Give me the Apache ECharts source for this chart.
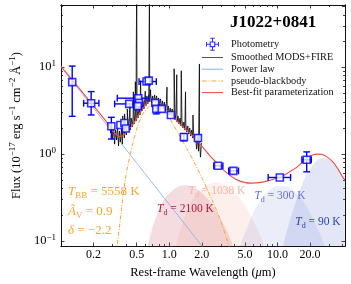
<!DOCTYPE html>
<html><head><meta charset="utf-8">
<script src="https://cdn.jsdelivr.net/npm/echarts@6/dist/echarts.min.js"></script>
<style>html,body{margin:0;padding:0;background:#fff}#c{width:351px;height:284px}</style>
</head><body><div id="c"></div>
<script>
const SERIF = "'Liberation Serif','Times New Roman','DejaVu Serif',serif";

// ---------------- data (wavelength in µm, flux in 1e-17 erg/s/cm2/Å) ----------------
const xTickLabels = [0.2, 0.5, 1, 2, 5, 10, 20];
const xMinorTicks = [0.3, 0.4, 0.6, 0.7, 0.8, 0.9, 3, 4, 6, 7, 8, 9, 30, 40];
const yTickLabels = [0.1, 1, 10];
const yMinorTicks = [0.2, 0.3, 0.4, 0.5, 0.6, 0.7, 0.8, 0.9, 2, 3, 4, 5, 6, 7, 8, 9, 20, 30, 40, 50];

// photometry
const photX   = [0.127,0.190,0.292,0.354,0.385,0.397,0.427,0.518,0.526,0.512,0.617,0.647,0.743,0.759,0.852,1.036,1.365,1.84,2.82,3.91,10.5,18.6];
const photY   = [6.73,3.85,2.09,2.16,2.28,1.97,3.78,4.40,3.88,3.56,6.84,7.00,3.88,3.31,3.31,2.82,1.57,1.53,0.733,0.641,0.538,0.86];
const photXlo = [0.127,0.162,0.292,0.354,0.385,0.397,0.313,0.331,0.526,0.512,0.526,0.647,0.743,0.759,0.852,1.036,1.365,1.84,2.58,3.54,8.2,16.8];
const photXhi = [0.127,0.224,0.292,0.354,0.385,0.397,0.515,0.647,0.526,0.512,0.759,0.647,0.743,0.759,0.852,1.036,1.365,1.84,3.13,4.36,13.2,20.5];
const photYlo = [2.72,2.82,1.49,2.16,2.28,1.97,3.78,4.40,3.88,3.56,6.84,7.00,3.88,2.90,3.31,2.82,1.42,1.40,0.733,0.641,0.538,0.625];
const photYhi = [10.3,5.24,2.65,2.16,2.28,1.97,3.78,4.40,3.88,3.56,6.84,7.00,3.88,3.60,3.31,2.82,1.72,1.66,0.733,0.641,0.538,1.06];

// smoothed MODS+FIRE spectrum (continuum samples + emission-line peaks)
const specX = [0.282,0.288,0.294,0.300,0.306,0.313,0.319,0.326,0.333,0.340,0.347,0.354,0.362,0.369,0.377,0.385,0.393,0.401,0.410,0.418,0.427,0.436,0.445,0.455,0.464,0.474,0.484,0.494,0.504,0.515,0.526,0.537,0.548,0.560,0.571,0.583,0.595,0.608,0.621,0.634,0.647,0.660,0.674,0.688,0.703,0.718,0.733,0.748,0.764,0.780,0.796,0.813,0.830,0.847,0.865,0.883,0.901,0.920,0.940,0.959,0.979,1.000,1.021,1.042,1.064,1.086,1.109,1.132,1.156,1.180,1.205,1.230,1.256,1.282,1.309,1.337,1.365,1.393,1.422,1.452,1.483,1.514,1.546,1.578,1.611,1.645,1.679,1.714,1.750,1.787,1.825,1.863,1.902,1.942,1.983];
const specY = [2.28,1.75,2.16,1.49,2.00,1.30,1.89,1.45,2.05,1.24,1.84,1.38,1.94,1.30,2.05,1.53,2.22,1.66,2.28,1.80,2.47,1.89,2.60,2.05,2.75,2.22,3.05,2.40,3.31,2.60,3.58,2.82,3.78,3.14,4.09,3.31,4.43,3.58,4.67,3.78,4.80,3.98,4.93,3.88,4.67,3.98,4.80,3.88,4.67,3.78,4.43,3.58,4.32,3.49,4.09,3.31,3.98,3.14,3.78,2.97,3.58,2.82,3.40,2.75,3.31,2.60,3.14,2.47,2.97,2.34,2.75,2.22,2.60,2.11,2.47,2.00,2.34,1.89,2.22,1.80,2.11,1.70,2.00,1.61,1.89,1.53,1.75,1.45,1.66,1.14,1.57,1.08,1.49,0.923,1.34];
const lineX = [0.372,0.387,0.410,0.434,0.466,0.4861,0.4959,0.5007,0.544,0.600,0.6563,0.6724,0.842,0.953,1.109,1.173,1.291,1.413,1.656,1.90];
const lineY = [2.75,2.9,3.3,3.8,5.2,6.8,15.6,80,7.0,5.3,80,5.5,4.5,5.9,9.6,8.2,9.1,5.2,2.82,10.9];

// power law
const powX = [0.1, 0.2, 0.5, 1.0, 2.0, 2.2];
const powY = [10.1, 3.37, 0.79, 0.264, 0.088, 0.076];

// pseudo-blackbody
const pbbX = [0.325,0.331,0.347,0.362,0.393,0.427,0.464,0.515,0.571,0.634,0.703,0.780,0.865,0.959,1.11,1.28,1.48,1.68,2.07,2.54,3.00,3.47,3.69];
const pbbY = [0.060,0.089,0.144,0.232,0.514,0.876,1.38,2.16,2.90,3.40,3.78,3.78,3.40,2.90,2.10,1.53,1.11,0.830,0.488,0.279,0.168,0.0964,0.0758];

// best-fit parameterization
const fitX = [0.100,0.171,0.260,0.313,0.347,0.377,0.410,0.445,0.484,0.537,0.595,0.660,0.733,0.813,0.901,1.036,1.18,1.365,1.58,1.83,2.07,2.39,2.82,3.33,4.10,5.04,5.83,6.74,7.96,9.20,10.9,12.8,15.1,17.1,19.0,21.1,23.4,25.9,28.8,32.6,36.2,40.1,41.9];
const fitY = [10.2,4.55,2.40,1.75,1.59,1.64,1.84,2.05,2.40,2.97,3.58,4.09,4.09,3.78,3.40,2.90,2.40,2.00,1.70,1.41,1.17,0.948,0.766,0.620,0.514,0.469,0.463,0.469,0.488,0.514,0.550,0.620,0.708,0.808,0.899,0.974,1.00,0.987,0.923,0.808,0.671,0.543,0.501];

// dust blackbody components
const bb2100X = [0.608,0.634,0.733,0.901,1.11,1.365,1.68,2.07,2.54,3.13,3.69,4.10];
const bb2100Y = [0.0581,0.0891,0.168,0.302,0.394,0.438,0.416,0.345,0.251,0.160,0.104,0.0682];
const bb1038X = [1.11,1.156,1.31,1.51,1.75,2.07,2.44,2.82,3.26,3.85,4.55,5.37,6.34,7.18,7.96];
const bb1038Y = [0.058,0.089,0.155,0.244,0.336,0.416,0.463,0.469,0.438,0.374,0.302,0.220,0.147,0.104,0.0647];
const bb300X = [4.36,4.55,5.26,6.08,7.18,8.47,10.0,11.8,13.9,16.5,19.4,22.9,27.1,28.2];
const bb300Y = [0.058,0.089,0.144,0.220,0.310,0.384,0.427,0.427,0.384,0.310,0.226,0.147,0.089,0.058];
const bb90X = [10.9,11.3,12.8,14.5,16.5,18.6,21.1,23.9,27.1,30.6,34.7,38.5,41.9];
const bb90Y = [0.058,0.089,0.160,0.265,0.416,0.588,0.746,0.864,0.899,0.852,0.746,0.604,0.501];

// ---------------- chart ----------------
const lg = Math.log10;
const XMIN = 0.1, XMAX = 42, YMIN = 0.0875, YMAX = 52;
const pts = (X, Y) => X.map((x, i) => [lg(x), lg(Y[i])]);
const AX = '#111';

function xAx(pos, vals, len, label) {
  return {
    type: 'value', position: pos, min: lg(XMIN), max: lg(XMAX),
    axisLine: {show: true, onZero: false, lineStyle: {color: AX, width: 1}},
    axisTick: {show: true, inside: true, length: len, customValues: vals.map(lg), lineStyle: {color: AX, width: 0.8}},
    axisLabel: label ? {show: true, customValues: vals.map(lg), margin: 3,
      formatter: v => Math.pow(10, v).toFixed(1), fontFamily: SERIF, fontSize: 12, color: '#000'} : {show: false},
    splitLine: {show: false}
  };
}
function yAx(pos, vals, len, label) {
  return {
    type: 'value', position: pos, min: lg(YMIN), max: lg(YMAX),
    axisLine: {show: true, onZero: false, lineStyle: {color: AX, width: 1}},
    axisTick: {show: true, inside: true, length: len, customValues: vals.map(lg), lineStyle: {color: AX, width: 0.8}},
    axisLabel: label ? {show: true, customValues: vals.map(lg), margin: 5,
      formatter: v => { const e = Math.round(v); return '{b|10}{s|' + (e < 0 ? '\u2212' + (-e) : e) + '}'; },
      rich: {
        b: {fontFamily: SERIF, fontSize: 12.5, lineHeight: 16, color: '#000'},
        s: {fontFamily: SERIF, fontSize: 9, lineHeight: 9, verticalAlign: 'top', color: '#000'}
      }} : {show: false},
    splitLine: {show: false}
  };
}

const xAxes = [
  Object.assign(xAx('bottom', xTickLabels, 3.5, true), {
    name: '{n|Rest-frame Wavelength (}{i|\u03bc}{n|m)}', nameLocation: 'middle', nameGap: 16,
    nameTextStyle: {rich: {
      n: {fontFamily: SERIF, fontSize: 12.5, color: '#000'},
      i: {fontFamily: SERIF, fontSize: 12.5, fontStyle: 'italic', color: '#000'}}}
  }),
  xAx('bottom', xMinorTicks, 2, false),
  xAx('top', xTickLabels, 3.5, false),
  xAx('top', xMinorTicks, 2, false)
];
const yAxes = [
  Object.assign(yAx('left', yTickLabels, 3.5, true), {
    name: '{n|Flux (10}{p|\u221217}{n| erg s}{p|\u22121}{n| cm}{p|\u22122}{n| \u00c5}{p|\u22121}{n|)}',
    nameLocation: 'middle', nameGap: 35, nameRotate: 90,
    nameTextStyle: {rich: {
      n: {fontFamily: SERIF, fontSize: 12.5, lineHeight: 17, color: '#000'},
      p: {fontFamily: SERIF, fontSize: 9, lineHeight: 9, verticalAlign: 'top', color: '#000'}}}
  }),
  yAx('left', yMinorTicks, 2, false),
  yAx('right', yTickLabels, 3.5, false),
  yAx('right', yMinorTicks, 2, false)
];

function shade(X, Y, color) {
  return {type: 'line', data: pts(X, Y), symbol: 'none', silent: true, smooth: 0.35,
    lineStyle: {width: 0}, areaStyle: {color: color, origin: 'start', opacity: 1}, z: 1};
}

const spec = pts(specX, specY).concat(pts(lineX, lineY)).sort((a, b) => a[0] - b[0]);
const errData = photX.map((x, i) => [lg(x), lg(photY[i]), lg(photXlo[i]), lg(photXhi[i]), lg(photYlo[i]), lg(photYhi[i])]);
const BLUE = '#0000ff';
const ORANGE = '#f7a530';
const RED = '#f24a4a';
const PLBLUE = '#86b8ee';

function errItem(params, api) {
  const x = api.value(0), y = api.value(1), xl = api.value(2), xh = api.value(3), yl = api.value(4), yh = api.value(5);
  const st = {stroke: BLUE, lineWidth: 1.4};
  const ch = [];
  const cap = 3.4;
  if (yh - yl > 1e-6) {
    const a = api.coord([x, yl]), b = api.coord([x, yh]);
    ch.push({type: 'line', shape: {x1: a[0], y1: a[1], x2: b[0], y2: b[1]}, style: st});
    ch.push({type: 'line', shape: {x1: a[0] - cap, y1: a[1], x2: a[0] + cap, y2: a[1]}, style: st});
    ch.push({type: 'line', shape: {x1: b[0] - cap, y1: b[1], x2: b[0] + cap, y2: b[1]}, style: st});
  }
  if (xh - xl > 1e-6) {
    const a = api.coord([xl, y]), b = api.coord([xh, y]);
    ch.push({type: 'line', shape: {x1: a[0], y1: a[1], x2: b[0], y2: b[1]}, style: st});
    ch.push({type: 'line', shape: {x1: a[0], y1: a[1] - cap, x2: a[0], y2: a[1] + cap}, style: st});
    ch.push({type: 'line', shape: {x1: b[0], y1: b[1] - cap, x2: b[0], y2: b[1] + cap}, style: st});
  }
  return {type: 'group', children: ch};
}

const PHOT_ICON = 'path://M5.6 5.6H14.4V14.4H5.6Z M7.4 7.4V12.6H12.6V7.4Z M0 9.2H5.6V10.8H0Z M14.4 9.2H20V10.8H14.4Z M9.2 0H10.8V5.6H9.2Z M9.2 14.4H10.8V20H9.2Z M0 6.5H1.6V13.5H0Z M18.4 6.5H20V13.5H18.4Z M6.5 0H13.5V1.6H6.5Z M6.5 18.4H13.5V20H6.5Z';
const LINE_ICON = 'path://M0 0H20V1H0Z';
const DASHDOT_ICON = 'path://M0 0H4.5V1H0Z M6.3 0H7.3V1H6.3Z M9.1 0H13.6V1H9.1Z M15.4 0H16.4V1H15.4Z M18.2 0H20V1H18.2Z';

function rich(color, fs) {
  return {
    i: {fontFamily: SERIF, fontStyle: 'italic', fontSize: fs, lineHeight: fs + 5, fill: color},
    n: {fontFamily: SERIF, fontSize: fs, lineHeight: fs + 5, fill: color},
    s: {fontFamily: SERIF, fontSize: Math.round(fs * 0.72), lineHeight: Math.round(fs * 0.72), verticalAlign: 'bottom', fill: color}
  };
}
function txt(x, y, text, color, fs, align) {
  return {type: 'text', x: x, y: y, z: 100, silent: true,
    style: {text: text, align: align || 'left', verticalAlign: 'middle', rich: rich(color, fs)}};
}

const option = {
  animation: false,
  backgroundColor: '#fff',
  grid: {left: 54, right: 6, top: 5, bottom: 38, containLabel: false},
  xAxis: xAxes,
  yAxis: yAxes,
  legend: {
    orient: 'vertical', left: 202, top: 37.8, padding: 0, itemGap: 1.7, itemWidth: 21, itemHeight: 13,
    selectedMode: false,
    textStyle: {fontFamily: SERIF, fontSize: 10.3, color: '#111', padding: [0, 0, 0, 3]},
    data: [
      {name: 'Photometry', icon: PHOT_ICON, itemStyle: {color: BLUE, borderWidth: 0}},
      {name: 'Smoothed MODS+FIRE', icon: LINE_ICON, itemStyle: {color: '#555', borderWidth: 0}},
      {name: 'Power law', icon: LINE_ICON, itemStyle: {color: PLBLUE, borderWidth: 0}},
      {name: 'pseudo-blackbody', icon: DASHDOT_ICON, itemStyle: {color: ORANGE, borderWidth: 0}},
      {name: 'Best-fit parameterization', icon: LINE_ICON, itemStyle: {color: RED, borderWidth: 0}}
    ]
  },
  series: [
    shade(bb2100X, bb2100Y, 'rgba(205,80,105,0.2)'),
    shade(bb1038X, bb1038Y, 'rgba(240,150,120,0.15)'),
    shade(bb300X, bb300Y, 'rgba(120,135,215,0.15)'),
    shade(bb90X, bb90Y, 'rgba(100,115,210,0.18)'),
    {name: 'Power law', type: 'line', data: pts(powX, powY), symbol: 'none', silent: true,
      lineStyle: {color: PLBLUE, width: 0.9}, itemStyle: {color: PLBLUE}, z: 2},
    {name: 'pseudo-blackbody', type: 'line', data: pts(pbbX, pbbY), symbol: 'none', silent: true, smooth: 0.3,
      lineStyle: {color: ORANGE, width: 1, type: [4, 1.6, 1, 1.6]}, itemStyle: {color: ORANGE}, z: 2},
    {name: 'Smoothed MODS+FIRE', type: 'line', data: spec, symbol: 'none', silent: true,
      lineStyle: {color: '#000', width: 0.8}, itemStyle: {color: '#000'}, z: 3},
    {name: 'Best-fit parameterization', type: 'line', data: pts(fitX, fitY), symbol: 'none', silent: true, smooth: 0.3,
      lineStyle: {color: RED, width: 1.1}, itemStyle: {color: RED}, z: 4},
    {name: 'errbars', type: 'custom', data: errData, renderItem: errItem, encode: {x: 0, y: 1}, silent: true, z: 5},
    {name: 'Photometry', type: 'scatter', data: pts(photX, photY), symbol: 'rect', symbolSize: 7, silent: true,
      itemStyle: {color: '#fff', borderColor: BLUE, borderWidth: 1.6}, z: 6}
  ],
  graphic: [
    {type: 'text', x: 230, y: 23, z: 100, silent: true,
      style: {text: 'J1022+0841', fontFamily: SERIF, fontWeight: 'bold', fontSize: 17, fill: '#000', align: 'left', verticalAlign: 'middle'}},
    txt(68, 191.5, '{i|T}{s|BB}{n| = 5558 K}', ORANGE, 13),
    txt(68, 211.5, '{i|\u00c3}{s|V}{n| = 0.9}', ORANGE, 13),
    txt(68, 231, '{i|\u03b4}{n| = \u22122.2}', ORANGE, 13),
    txt(185.5, 208.5, '{i|T}{s|d}{n| = 2100 K}', '#b3163f', 11.5, 'center'),
    txt(217, 191, '{i|T}{s|d}{n| = 1038 K}', '#f4b49e', 11.5, 'center'),
    txt(280, 196, '{i|T}{s|d}{n| = 300 K}', '#6172de', 11.5, 'center'),
    txt(318, 221.7, '{i|T}{s|d}{n| = 90 K}', '#2f40b0', 11.5, 'center')
  ]
};

const chart = echarts.init(document.getElementById('c'), null, {renderer: 'canvas'});
chart.setOption(option);
</script>
</body></html>
